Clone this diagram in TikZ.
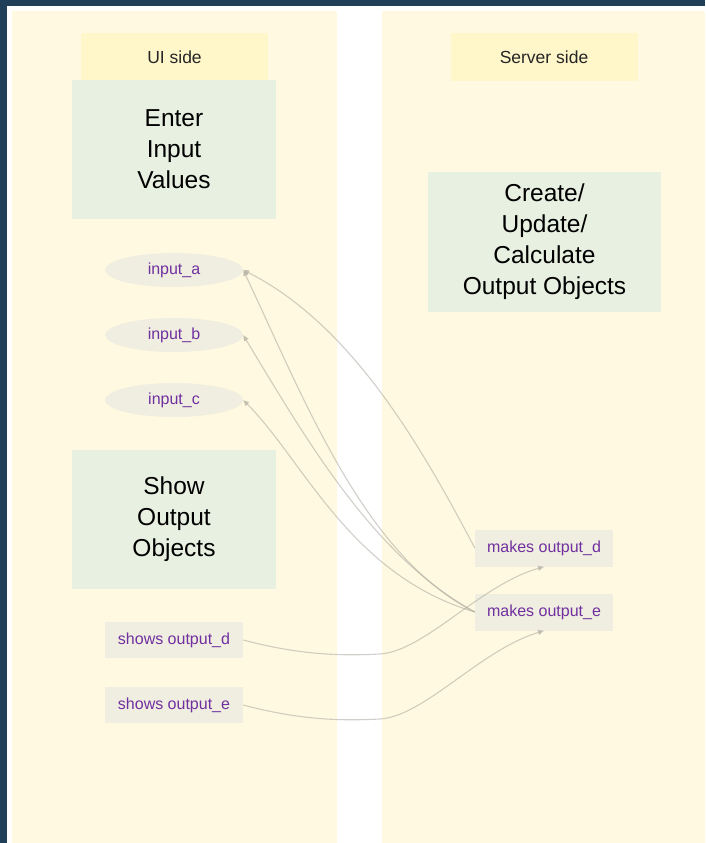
\documentclass[tikz,border=0pt]{standalone}
\usepackage{fontspec}
\setmainfont{Liberation Sans}
\usetikzlibrary{shapes.geometric,arrows.meta}

\definecolor{frame}{HTML}{1F4058}
\definecolor{lane}{HTML}{FFF9E1}
\definecolor{hdrfill}{HTML}{FFF6CA}
\definecolor{stepfill}{HTML}{E8F0E1}
\definecolor{itemfill}{HTML}{F0EEE0}
\definecolor{itemtext}{HTML}{7030A0}
\definecolor{wire}{HTML}{ACA99E}

\tikzset{
  hdrbox/.style={rectangle, fill=hdrfill, minimum width=187pt, minimum height=47pt,
    inner sep=0pt, font=\fontsize{17.5}{20}\selectfont, text=black!85},
  stagebox/.style={rectangle, fill=stepfill, minimum width=204pt, minimum height=139pt,
    inner sep=0pt, align=center, font=\fontsize{24.5}{31}\selectfont, text=black},
  inbubble/.style={ellipse, fill=itemfill, minimum width=138pt, minimum height=34pt,
    inner sep=0pt, font=\fontsize{16}{18}\selectfont, text=itemtext},
  itembox/.style={rectangle, fill=itemfill, minimum width=138pt, minimum height=36pt,
    inner sep=0pt, font=\fontsize{16}{18}\selectfont, text=itemtext},
  wireline/.style={draw=wire, draw opacity=0.55, fill opacity=0.6, line width=1.1pt,
    -{Triangle[length=6pt,width=5pt,fill=wire]}}
}

\begin{document}
\begin{tikzpicture}[x=1pt,y=-1pt]
  % page, frame and the two swim lanes
  \useasboundingbox (0,0) rectangle (705,843);
  \fill[white] (0,0) rectangle (705,843);
  \fill[frame] (0,0) rectangle (705,6);
  \fill[frame] (0,0) rectangle (7,843);
  \fill[lane] (11.5,11) rectangle (337,843);
  \fill[lane] (382,11) rectangle (705,843);

  % lane headers
  \node[hdrbox] (uihdr) at (174.5,57) {UI side};
  \node[hdrbox] (srvhdr) at (544,57) {Server side};

  % stage boxes
  \node[stagebox] (enter) at (174,149.5) {Enter\\Input\\Values};
  \node[stagebox, minimum width=233pt, minimum height=140pt] (calc) at (544.5,242)
    {Create/\\Update/\\Calculate\\Output Objects};
  \node[stagebox] (show) at (174,519.5) {Show\\Output\\Objects};

  % inputs
  \node[inbubble] (ia) at (174,270) {input\_a};
  \node[inbubble] (ib) at (174,335) {input\_b};
  \node[inbubble] (ic) at (174,400) {input\_c};

  % outputs on the UI side
  \node[itembox] (sd) at (174,640) {shows output\_d};
  \node[itembox] (se) at (174,705) {shows output\_e};

  % outputs on the server side
  \node[itembox, minimum height=37pt] (md) at (544,548) {makes output\_d};
  \node[itembox, minimum height=37pt] (me) at (544,612) {makes output\_e};

  % dependencies of the server outputs on the inputs
  \draw[wireline] (md.west) .. controls (424,452) and (354,326) .. (ia.east);
  \draw[wireline] (me.west) .. controls (365,557) and (305,401) .. (ia.east);
  \draw[wireline] (me.west) .. controls (375,557) and (310,446) .. (ib.east);
  \draw[wireline] (me.west) .. controls (350,575) and (304,461) .. (ic.east);

  % UI outputs rendered from the server outputs
  \coordinate (dlow) at (380,654);
  \coordinate (elow) at (380,719);
  \draw[wireline] (sd.east) .. controls (300,655) and (340,656) .. (dlow)
    .. controls (425,651) and (480,585) .. (md.south);
  \draw[wireline] (se.east) .. controls (300,720) and (340,721) .. (elow)
    .. controls (425,716) and (480,650) .. (me.south);
\end{tikzpicture}
\end{document}
